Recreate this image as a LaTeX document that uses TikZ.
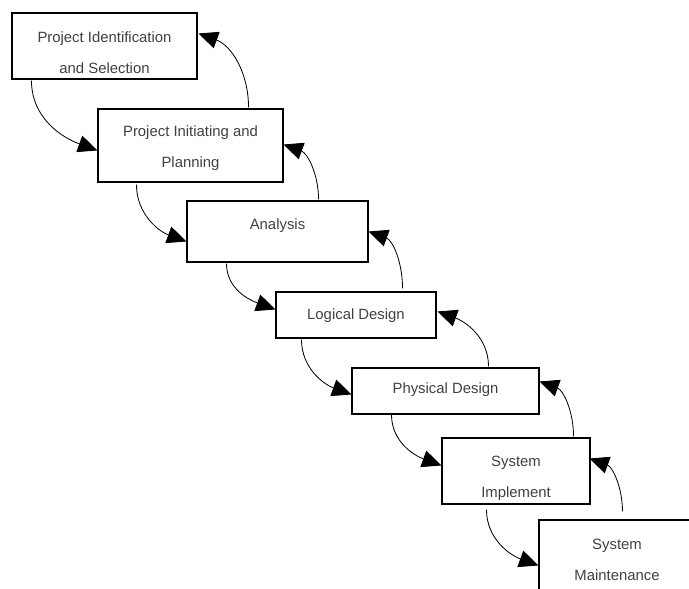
\documentclass[tikz,border=0pt]{standalone}
\usepackage{fontspec}
\setmainfont{Liberation Sans}
\usepackage{tikz}
\usetikzlibrary{calc,arrows.meta}

\begin{document}
\begin{tikzpicture}
[x=0.3mm,y=-0.3mm,>={Triangle[length=5.8mm,width=5.2mm]},
box/.style={draw,line width=0.9pt,inner sep=0pt},
txt/.style={align=center,text=black!75,font=\fontsize{12.7}{26.4}\selectfont},
flow/.style={->,line width=0.7pt},]

\useasboundingbox (0,0) rectangle (689,589);
\clip (0,0) rectangle (689,589);

%Phase boxes
\node (b1) at (104.5,46)[box,minimum width=55.5mm,minimum height=19.8mm] {};
\node (b2) at (190.5,145.5)[box,minimum width=55.5mm,minimum height=21.9mm] {};
\node (b3) at (277.5,231.5)[box,minimum width=54.3mm,minimum height=18.3mm] {};
\node (b4) at (356,315)[box,minimum width=48mm,minimum height=13.8mm] {};
\node (b5) at (445.5,391)[box,minimum width=56.1mm,minimum height=13.8mm] {};
\node (b6) at (516,471)[box,minimum width=44.4mm,minimum height=19.8mm] {};
\node (b7) at (617,556)[box,minimum width=46.8mm,minimum height=21.6mm] {};

%Labels
\node (t1) at (104.5,52.5)[txt] {Project Identification\\and Selection};
\node (t2) at (190.5,148.5)[txt] {Project Initiating and\\Planning};
\node (t3) at (277.5,225.5)[txt] {Analysis};
\node (t4) at (356,315.5)[txt] {Logical Design};
\node (t5) at (445.5,390)[txt] {Physical Design};
\node (t6) at (516,478)[txt] {System\\Implement};
\node (t7) at (617,560)[txt] {System\\Maintenance};

%Going down
\draw[flow] ($(b1.south west)+(20,1)$) to[out=-90,in=160] ($(b2.north west)+(0,42)$);
\draw[flow] ($(b2.south west)+(39,2)$) to[out=-90,in=160] ($(b3.north west)+(0,41)$);
\draw[flow] ($(b3.south west)+(40,1)$) to[out=-90,in=160] ($(b4.north west)+(0,18)$);
\draw[flow] ($(b4.south west)+(26,1)$) to[out=-90,in=160] ($(b5.north west)+(0,27)$);
\draw[flow] ($(b5.south west)+(40,0)$) to[out=-90,in=160] ($(b6.north west)+(0,28)$);
\draw[flow] ($(b6.south west)+(45,5)$) to[out=-90,in=160] ($(b7.north west)+(0,46)$);

%Going back up
\draw[flow] ($(b2.north east)+(-35,-1)$) to[out=90,in=-20] ($(b1.north east)+(1,21)$);
\draw[flow] ($(b3.north east)+(-50,-1)$) to[out=90,in=-20] ($(b2.north east)+(0,36)$);
\draw[flow] ($(b4.north east)+(-34,-3)$) to[out=90,in=-20] ($(b3.north east)+(0,31)$);
\draw[flow] ($(b5.north east)+(-51,-1)$) to[out=90,in=-20] ($(b4.north east)+(1,20)$);
\draw[flow] ($(b6.north east)+(-17,-1)$) to[out=90,in=-20] ($(b5.north east)+(0,14)$);
\draw[flow] ($(b7.north west)+(84,-8)$) to[out=90,in=-20] ($(b6.north east)+(-1,21)$);

\end{tikzpicture}
\end{document}
